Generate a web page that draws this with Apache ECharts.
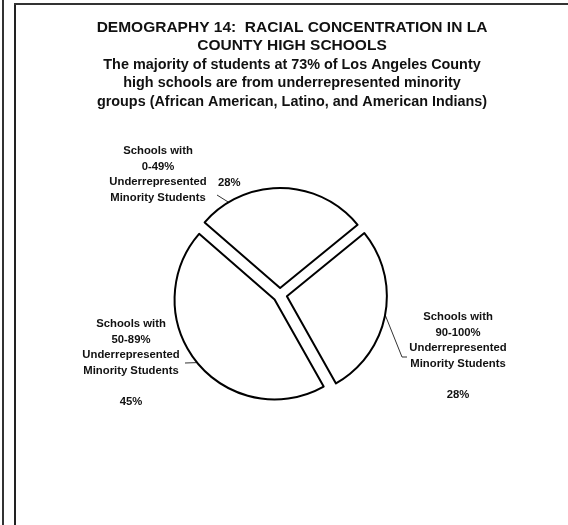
<!DOCTYPE html>
<html>
<head>
<meta charset="utf-8">
<script src="https://cdn.jsdelivr.net/npm/echarts@6/dist/echarts.min.js"></script>
<style>
html,body{margin:0;padding:0;background:#fff;}
#chart{width:568px;height:525px;}
</style>
</head>
<body>
<div id="chart"></div>
<script>
// ---- data ----
var titleText = 'DEMOGRAPHY 14:  RACIAL CONCENTRATION IN LA\nCOUNTY HIGH SCHOOLS';
var subtitleText = 'The majority of students at 73% of Los Angeles County\nhigh schools are from underrepresented minority\ngroups (African American, Latino, and American Indians)';
var categories = ['0-49%', '90-100%', '50-89%'];
var values = [28, 28, 45];

// ---- styling / layout ----
var FONT = '"Liberation Sans", Arial, Helvetica, sans-serif';
var LABEL_FONT = 'bold 11.3px ' + FONT;
var LH = 15.7;
var CX = 280, CY = 295, R = 100, OFFSET = 7, START = 139;

var chart = echarts.init(document.getElementById('chart'), null, {renderer: 'canvas'});

var total = values.reduce(function (a, b) { return a + b; }, 0);
var midAngles = [];
(function () {
  var a = START;
  for (var i = 0; i < values.length; i++) {
    var span = values[i] / total * 360;
    midAngles.push(a - span / 2);
    a -= span;
  }
})();
function rad(d) { return d * Math.PI / 180; }
function edgePoint(i, angDeg) {
  var m = rad(midAngles[i]);
  var ox = CX + OFFSET * Math.cos(m), oy = CY - OFFSET * Math.sin(m);
  var a = rad(angDeg);
  return [ox + R * Math.cos(a), oy - R * Math.sin(a)];
}
function nameText(cat) {
  return ['Schools with', cat, 'Underrepresented', 'Minority Students'].join('\n');
}

// label placement (name block centre, percent placement, leader tail)
var labelPos = [
  {x: 158, y: 174.5, pctInline: [218, 183], angle: 121, tail: [[217, 195]]},
  {x: 458, y: 356, angle: null, tail: [[402, 357], [407, 357]]},
  {x: 131, y: 363, angle: null, tail: [[185, 363]]}
];

var graphics = [
  {type: 'line', shape: {x1: 3, y1: 0, x2: 3, y2: 525}, style: {stroke: '#333', lineWidth: 2}},
  {type: 'line', shape: {x1: 15, y1: 4, x2: 15, y2: 525}, style: {stroke: '#222', lineWidth: 2}},
  {type: 'line', shape: {x1: 14, y1: 4, x2: 568, y2: 4}, style: {stroke: '#333', lineWidth: 2}}
];

categories.forEach(function (c, i) {
  var lp = labelPos[i];
  var pct = values[i] + '%';
  if (lp.pctInline) {
    graphics.push({type: 'text', x: lp.x, y: lp.y, style: {
      text: nameText(c), font: LABEL_FONT, fill: '#111', align: 'center', verticalAlign: 'middle', lineHeight: LH}});
    graphics.push({type: 'text', x: lp.pctInline[0], y: lp.pctInline[1], style: {
      text: pct, font: LABEL_FONT, fill: '#111', align: 'left', verticalAlign: 'middle', lineHeight: LH}});
  } else {
    graphics.push({type: 'text', x: lp.x, y: lp.y, style: {
      text: nameText(c) + '\n\n' + pct, font: LABEL_FONT, fill: '#111', align: 'center', verticalAlign: 'middle', lineHeight: LH}});
  }
  var ang = lp.angle == null ? midAngles[i] : lp.angle;
  graphics.push({type: 'polyline', shape: {points: [edgePoint(i, ang)].concat(lp.tail)},
    style: {stroke: '#333', lineWidth: 1, fill: null}});
});

var pieData = categories.map(function (c, i) {
  return {name: c, value: values[i], selected: true};
});

var option = {
  animation: false,
  backgroundColor: '#fff',
  title: {
    text: titleText,
    subtext: subtitleText,
    left: 292,
    top: 18,
    padding: 0,
    itemGap: 0,
    textAlign: 'center',
    textStyle: {fontFamily: FONT, fontWeight: 'bold', fontSize: 15.5, lineHeight: 18.7, color: '#111'},
    subtextStyle: {fontFamily: FONT, fontWeight: 'bold', fontSize: 14.4, lineHeight: 18.7, color: '#111'}
  },
  graphic: graphics,
  series: [{
    type: 'pie',
    center: [CX, CY],
    radius: [0, R],
    startAngle: START,
    clockwise: true,
    selectedMode: 'multiple',
    selectedOffset: OFFSET,
    emphasis: {disabled: true},
    select: {itemStyle: {color: '#fff', borderColor: '#000', borderWidth: 2}},
    itemStyle: {color: '#fff', borderColor: '#000', borderWidth: 2},
    label: {show: false},
    labelLine: {show: false},
    data: pieData
  }]
};
chart.setOption(option);
</script>
</body>
</html>
